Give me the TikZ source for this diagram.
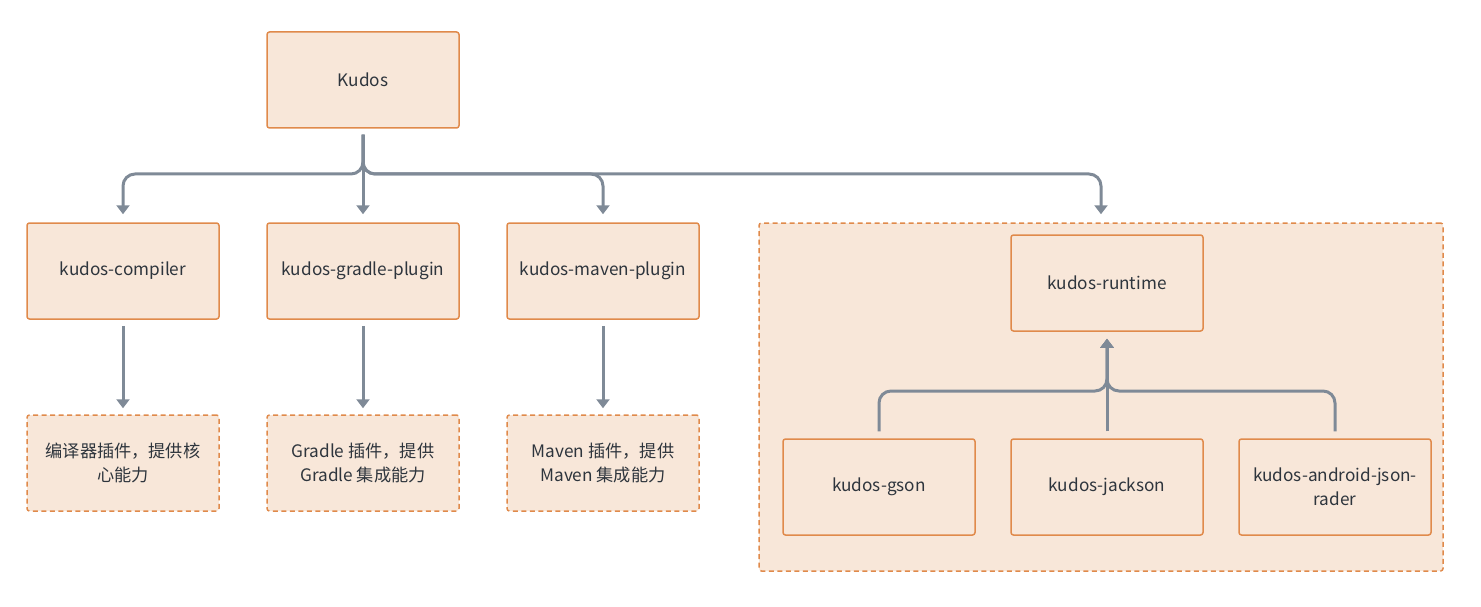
\documentclass[tikz,border=0pt]{standalone}
\usepackage{fontspec}
\setmainfont{Noto Sans CJK SC}
\usetikzlibrary{arrows.meta}
\definecolor{boxfill}{HTML}{F8E7D9}
\definecolor{boxline}{HTML}{E08A4B}
\definecolor{conncol}{HTML}{7F8A97}
\definecolor{txt}{HTML}{2E353D}
\tikzset{
  solidbox/.style={draw=boxline, fill=boxfill, line width=1.5pt, rounded corners=2.5pt,
    minimum width=192pt, minimum height=96pt, inner sep=0pt, align=center,
    text=txt, font=\fontsize{17.2}{24}\selectfont},
  dashbox/.style={solidbox, dashed, dash pattern=on 5pt off 3.5pt},
  conn/.style={draw=conncol, line width=3pt, rounded corners=12pt},
  arr/.style={conn, -{Triangle[width=13pt,length=9pt]}}
}
\begin{document}
\begin{tikzpicture}[x=1pt,y=-1pt]
\useasboundingbox (0,0) rectangle (1481,607);
% container
\node[dashbox, minimum width=684pt, minimum height=348pt] (runtimegrp) at (1101,397) {};
% nodes
\node[solidbox] (kudos) at (363,80) {Kudos};
\node[solidbox] (compiler) at (123,271) {kudos-compiler};
\node[solidbox] (gradle) at (363,271) {kudos-gradle-plugin};
\node[solidbox] (maven) at (603,271) {kudos-maven-plugin};
\node[dashbox] (compilerd) at (123,463) {编译器插件，提供核\\心能力};
\node[dashbox] (gradled) at (363,463) {Gradle 插件，提供\\Gradle 集成能力};
\node[dashbox] (mavend) at (603,463) {Maven 插件，提供\\Maven 集成能力};
\node[solidbox] (runtime) at (1107,283) {kudos-runtime};
\node[solidbox] (gson) at (879,487) {kudos-gson};
\node[solidbox] (jackson) at (1107,487) {kudos-jackson};
\node[solidbox] (android) at (1335,487) {kudos-android-json-\\rader};
% junctions
\coordinate (j1) at (363,174);
\coordinate (j2) at (1107,391);
% top connectors
\draw[arr] ([yshift=-6pt]kudos.south) -- (j1) -| ([yshift=8pt]compiler.north);
\draw[arr] ([yshift=-6pt]kudos.south) -- ([yshift=8pt]gradle.north);
\draw[arr] ([yshift=-6pt]kudos.south) -- (j1) -| ([yshift=8pt]maven.north);
\draw[arr] ([yshift=-6pt]kudos.south) -- (j1) -| ([yshift=8pt]runtimegrp.north);
% middle connectors
\draw[arr] ([yshift=-6pt]compiler.south) -- ([yshift=6pt]compilerd.north);
\draw[arr] ([yshift=-6pt]gradle.south) -- ([yshift=6pt]gradled.north);
\draw[arr] ([yshift=-6pt]maven.south) -- ([yshift=6pt]mavend.north);
% runtime connectors
\draw[arr] ([yshift=7pt]gson.north) |- (j2) -- ([yshift=-7pt]runtime.south);
\draw[arr] ([yshift=7pt]jackson.north) -- ([yshift=-7pt]runtime.south);
\draw[arr] ([yshift=7pt]android.north) |- (j2) -- ([yshift=-7pt]runtime.south);
\end{tikzpicture}
\end{document}
